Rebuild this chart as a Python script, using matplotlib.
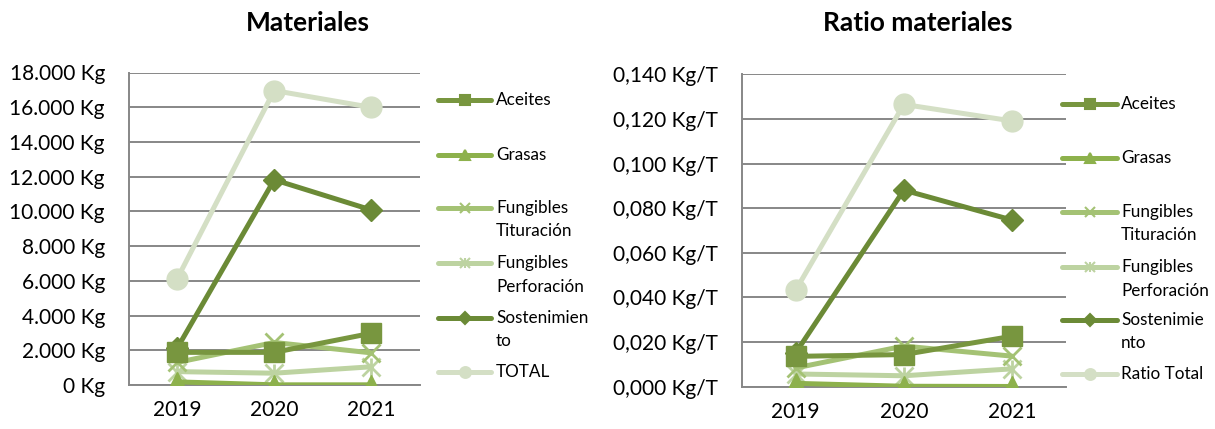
import matplotlib
matplotlib.use('Agg')
import matplotlib.pyplot as plt
from matplotlib.lines import Line2D
from matplotlib.ticker import FuncFormatter, MultipleLocator

# ---------------- data ----------------
years = ['2019', '2020', '2021']

series_names_left = ['Aceites', 'Grasas', 'Fungibles Tituración', 'Fungibles Perforación',
                     'Sostenimiento', 'TOTAL']
aceites = [1880, 1880, 2980]
grasas = [180, 10, 10]
fung_trit = [1300, 2450, 1850]
fung_perf = [770, 680, 1050]
sostenimiento = [2110, 11820, 10080]
total = [6110, 16960, 15990]

series_names_right = ['Aceites', 'Grasas', 'Fungibles Tituración', 'Fungibles Perforación',
                      'Sostenimiento', 'Ratio Total']
r_aceites = [0.0136, 0.0144, 0.0226]
r_grasas = [0.0015, 0.0002, 0.0001]
r_fung_trit = [0.0084, 0.0182, 0.0137]
r_fung_perf = [0.0057, 0.0049, 0.0080]
r_sost = [0.0152, 0.0881, 0.0747]
r_total = [0.0433, 0.1265, 0.1191]

left_legend_labels = ['Aceites', 'Grasas', 'Fungibles\nTituración', 'Fungibles\nPerforación',
                      'Sostenimien\nto', 'TOTAL']
right_legend_labels = ['Aceites', 'Grasas', 'Fungibles\nTituración', 'Fungibles\nPerforación',
                       'Sostenimie\nnto', 'Ratio Total']

# ---------------- styles ----------------
FONT = 'Lato'
plt.rcParams['font.family'] = [FONT, 'DejaVu Sans']

styles = [
    dict(color='#78963f', marker='s', ms=14),   # Aceites
    dict(color='#8db14c', marker='^', ms=14),   # Grasas
    dict(color='#a4c274', marker='x', ms=13),   # Trituración
    dict(color='#bdd3a1', marker='x', ms=13),   # Perforación (star)
    dict(color='#6b8a36', marker='D', ms=11),   # Sostenimiento
    dict(color='#d4dfc5', marker='o', ms=15),   # Total
]
LW = 3.6
GRID = '#878787'

W, H = 1215, 429
fig = plt.figure(figsize=(W / 100, H / 100), dpi=100)


def px_axes(x0, x1, ytop, ybot):
    return fig.add_axes([x0 / W, 1 - ybot / H, (x1 - x0) / W, (ybot - ytop) / H])


def draw(ax, data_list, ymax, step, fmt):
    x = list(range(len(years)))
    order = [5, 4, 3, 2, 0, 1]
    for i in order:
        st = styles[i]
        y = data_list[i]
        ax.plot(x, y, color=st['color'], lw=LW, marker=st['marker'], ms=st['ms'],
                mew=2 if st['marker'] == 'x' else 1, mec=st['color'], mfc=st['color'],
                zorder=3 + (5 - i) * 0.1 if i != 5 else 2.5, solid_capstyle='round')
        if i == 3:
            ax.plot(x, y, linestyle='none', marker='|', ms=13, mew=2, color=st['color'], zorder=3)
    ax.set_xlim(-0.5, 2.5)
    ax.set_ylim(0, ymax)
    ax.yaxis.set_major_locator(MultipleLocator(step))
    ax.yaxis.set_major_formatter(FuncFormatter(fmt))
    ax.set_xticks(x)
    ax.set_xticklabels(years)
    ax.grid(axis='y', color=GRID, lw=1.4, zorder=0)
    ax.set_axisbelow(True)
    for s in ['top', 'right']:
        ax.spines[s].set_visible(False)
    for s in ['left', 'bottom']:
        ax.spines[s].set_color(GRID)
        ax.spines[s].set_linewidth(1.4)
    ax.tick_params(axis='both', length=0, labelsize=15, colors='black')
    ax.tick_params(axis='y', pad=17)
    ax.tick_params(axis='x', pad=11)


def fmt_kg(v, pos):
    return '{:,.0f} Kg'.format(v).replace(',', '.')


def fmt_ratio(v, pos):
    return '{:.3f} Kg/T'.format(v).replace('.', ',')


axL = px_axes(128.5, 420, 72.5, 385)
draw(axL, [aceites, grasas, fung_trit, fung_perf, sostenimiento, total], 18000, 2000, fmt_kg)

axR = px_axes(741.7, 1066, 74.3, 386.7)
draw(axR, [r_aceites, r_grasas, r_fung_trit, r_fung_perf, r_sost, r_total], 0.14, 0.02, fmt_ratio)

fig.text(308 / W, 1 - 23 / H, 'Materiales', ha='center', va='center', fontsize=19, fontweight='bold')
fig.text(918 / W, 1 - 23 / H, 'Ratio materiales', ha='center', va='center', fontsize=19, fontweight='bold')


def legend(x0, x1, xt, ys, labels):
    for i, (y, lab) in enumerate(zip(ys, labels)):
        st = styles[i]
        yf = 1 - y / H
        fig.add_artist(Line2D([x0 / W, x1 / W], [yf, yf], color=st['color'], lw=LW,
                              solid_capstyle='round', transform=fig.transFigure))
        xm = (x0 + x1) / 2 / W
        ms = st['ms'] * 0.52
        fig.add_artist(Line2D([xm], [yf], marker=st['marker'], ms=ms, color=st['color'],
                              mew=1.5, linestyle='none', transform=fig.transFigure))
        if i == 3:
            fig.add_artist(Line2D([xm], [yf], marker='|', ms=ms, color=st['color'],
                                  mew=1.5, linestyle='none', transform=fig.transFigure))
        for k, line in enumerate(lab.split('\n')):
            fig.text(xt / W, 1 - (y + k * 23.5) / H, line, ha='left', va='center', fontsize=12.3)


legend(438, 491, 496, [100, 155, 208, 263, 318, 372], left_legend_labels)
legend(1062, 1117, 1121, [104, 158, 212, 267, 320, 374], right_legend_labels)

fig.savefig('out.png', dpi=100, facecolor='white')
